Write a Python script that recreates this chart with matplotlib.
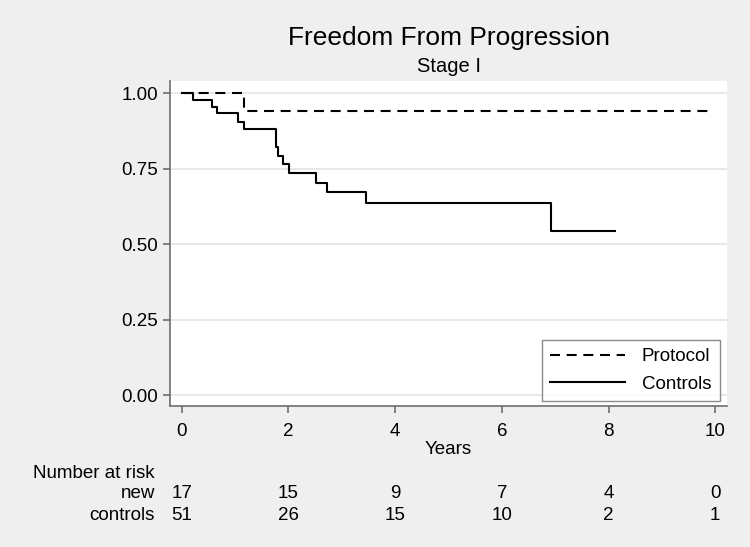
import matplotlib
matplotlib.use("Agg")
import matplotlib.pyplot as plt
import matplotlib.transforms as mtransforms

plt.rcParams['font.family'] = ['Liberation Sans', 'DejaVu Sans']

# Kaplan-Meier estimates
protocol_t = [0, 1.17, 9.93]
protocol_s = [1.0, 0.941, 0.941]
controls_t = [0, 0.22, 0.57, 0.66, 1.06, 1.17, 1.76, 1.81, 1.89, 2.01, 2.52, 2.72, 3.45, 6.92, 8.12]
controls_s = [1.0, 0.978, 0.956, 0.934, 0.906, 0.882, 0.823, 0.792, 0.765, 0.735, 0.704, 0.672, 0.636, 0.545, 0.545]

risk_times = [0, 2, 4, 6, 8, 10]
risk_new = [17, 15, 9, 7, 4, 0]
risk_controls = [51, 26, 15, 10, 2, 1]

bg = '#efefef'
axis_col = '#6e6e6e'

fig = plt.figure(figsize=(7.5, 5.47), dpi=100, facecolor=bg)
ax = fig.add_axes([170/750, 1 - 406/547, 557/750, 325/547])
ax.set_facecolor('white')

ax.step(protocol_t, protocol_s, where='post', color='black', lw=1.5,
        linestyle=(0, (4.8, 3.2)), label='Protocol')
ax.step(controls_t, controls_s, where='post', color='black', lw=1.5, label='Controls')

ax.set_xlim(-0.219, 10.22)
ax.set_ylim(-0.036, 1.041)
ax.set_xticks(risk_times)
ax.set_yticks([0, 0.25, 0.5, 0.75, 1.0])
ax.set_yticklabels(['0.00', '0.25', '0.50', '0.75', '1.00'])
ax.yaxis.grid(True, color='#e4e4e4', lw=1.2)
ax.set_axisbelow(True)
for s in ['top', 'right']:
    ax.spines[s].set_visible(False)
for s in ['left', 'bottom']:
    ax.spines[s].set_color(axis_col)
    ax.spines[s].set_linewidth(1.2)
ax.tick_params(colors=axis_col, labelcolor='black', labelsize=13.5, length=5, width=1.2)
ax.tick_params(axis='x', pad=7)

ax.set_xlabel('Years', fontsize=13.5, labelpad=1)

leg = ax.legend(loc='lower right', bbox_to_anchor=(0.987, 0.015), fontsize=13.5,
                frameon=True, fancybox=False, handlelength=4.0, handletextpad=0.9,
                labelspacing=0.55, borderpad=0.45, borderaxespad=0)
leg.get_frame().set_edgecolor(axis_col)
leg.get_frame().set_linewidth(1.0)

fig.text(449/750, 1 - 38/547, 'Freedom From Progression', fontsize=19,
         ha='center', va='center')
fig.text(449/750, 1 - 67/547, 'Stage I', fontsize=14.5, ha='center', va='center')

# number at risk table
trans = mtransforms.blended_transform_factory(ax.transData, fig.transFigure)
fig.text(155/750, 1 - 473/547, 'Number at risk', fontsize=13.5, ha='right', va='center')
fig.text(155/750, 1 - 494/547, 'new', fontsize=13.5, ha='right', va='center')
fig.text(155/750, 1 - 515/547, 'controls', fontsize=13.5, ha='right', va='center')
for t, n1, n2 in zip(risk_times, risk_new, risk_controls):
    fig.text(t, 1 - 494/547, str(n1), fontsize=13.5, ha='center', va='center', transform=trans)
    fig.text(t, 1 - 515/547, str(n2), fontsize=13.5, ha='center', va='center', transform=trans)

fig.savefig('out.png', dpi=100, facecolor=bg)
